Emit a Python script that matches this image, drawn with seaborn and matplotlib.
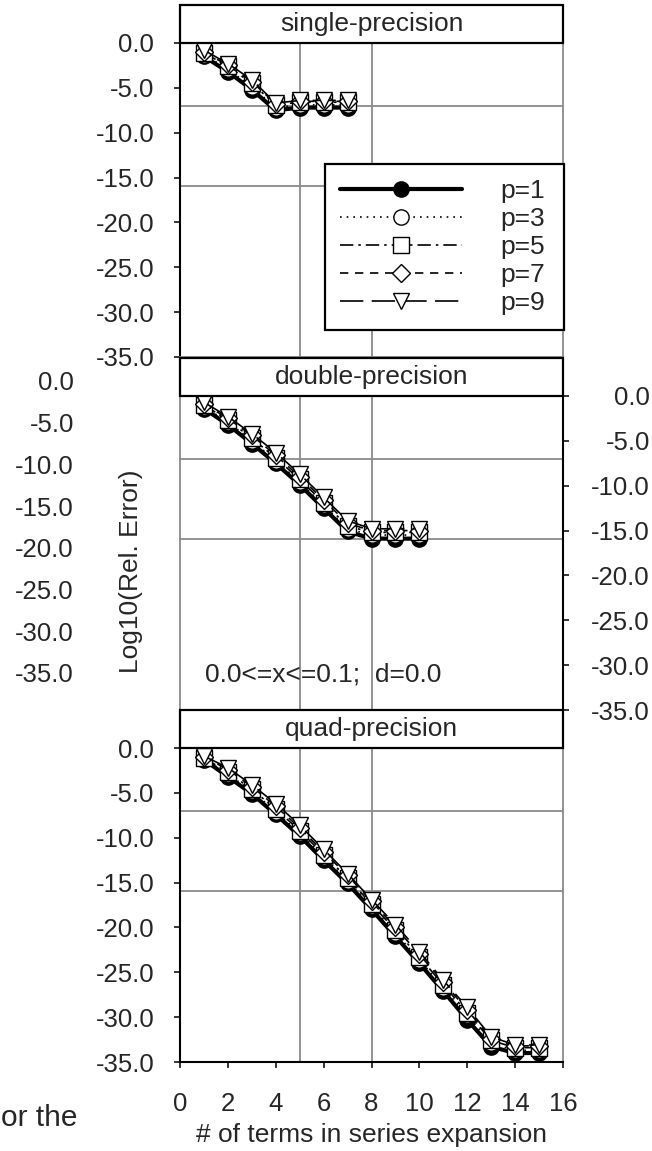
import numpy as np
import pandas as pd
import seaborn as sns
import matplotlib
matplotlib.use("Agg")
import matplotlib.pyplot as plt
from matplotlib.patches import Rectangle

# ---- data (log10 of relative error) ----
series_labels = ["p=1", "p=3", "p=5", "p=7", "p=9"]

single_terms = [1, 2, 3, 4, 5, 6, 7]
single_p1 = [-1.5, -3.2, -5.2, -7.5, -7.2, -7.2, -7.2]
single_p3 = [-1.3, -2.9, -4.9, -7.2, -6.9, -6.9, -6.9]
single_p5 = [-1.1, -2.6, -4.5, -6.9, -6.6, -6.6, -6.6]
single_p7 = [-1.0, -2.5, -4.3, -6.8, -6.5, -6.5, -6.5]
single_p9 = [-0.8, -2.3, -4.1, -6.7, -6.4, -6.4, -6.4]

double_terms = [1, 2, 3, 4, 5, 6, 7, 8, 9, 10]
double_p1 = [-1.4, -3.2, -5.3, -7.5, -9.9, -12.5, -15.1, -15.9, -15.9, -15.9]
double_p3 = [-1.2, -2.9, -5.0, -7.2, -9.6, -12.2, -14.8, -15.5, -15.5, -15.5]
double_p5 = [-1.0, -2.7, -4.7, -6.9, -9.3, -11.9, -14.5, -15.2, -15.2, -15.2]
double_p7 = [-0.9, -2.5, -4.4, -6.6, -9.0, -11.6, -14.2, -15.0, -15.0, -15.0]
double_p9 = [-0.7, -2.3, -4.2, -6.3, -8.7, -11.3, -13.9, -14.8, -14.8, -14.8]

quad_terms = list(range(1, 16))
quad_p1 = [-1.3, -3.2, -5.1, -7.4, -9.8, -12.5, -15.1, -18.0, -21.0, -24.0, -27.1, -30.3, -33.3, -34.0, -34.0]
quad_p3 = [-1.2, -2.9, -4.8, -7.1, -9.5, -12.1, -14.8, -17.6, -20.6, -23.6, -26.7, -29.8, -32.9, -33.7, -33.7]
quad_p5 = [-1.1, -2.7, -4.6, -6.8, -9.2, -11.9, -14.5, -17.4, -20.3, -23.3, -26.4, -29.5, -32.6, -33.4, -33.4]
quad_p7 = [-1.0, -2.4, -4.3, -6.5, -8.9, -11.6, -14.2, -17.1, -20.0, -23.0, -26.1, -29.2, -32.4, -33.2, -33.2]
quad_p9 = [-0.9, -2.2, -4.1, -6.2, -8.6, -11.3, -14.0, -16.9, -19.7, -22.7, -25.9, -28.9, -32.2, -33.1, -33.1]

panel_titles = ["single-precision", "double-precision", "quad-precision"]
eps_levels = [-7.0, -15.95]     # horizontal reference lines
term_marks = [5, 8]             # vertical reference lines
y_ticks = [0, -5, -10, -15, -20, -25, -30, -35]
x_ticks = [0, 2, 4, 6, 8, 10, 12, 14, 16]

panels = [
    (single_terms, [single_p1, single_p3, single_p5, single_p7, single_p9]),
    (double_terms, [double_p1, double_p3, double_p5, double_p7, double_p9]),
    (quad_terms, [quad_p1, quad_p3, quad_p5, quad_p7, quad_p9]),
]

# ---- styling ----
sns.set_style("white")
plt.rcParams["font.family"] = ["Liberation Sans", "DejaVu Sans"]
plt.rcParams["axes.unicode_minus"] = False

W, H = 652, 1151
GRAY = "#8a8a8a"
TICK_FS = 18.5
TXT_FS = 19

styles = [
    dict(linestyle="-", linewidth=3.0, marker="o", markersize=11, markerfacecolor="black"),
    dict(linestyle=(0, (1, 3)), linewidth=1.2, marker="o", markersize=11, markerfacecolor="white"),
    dict(linestyle=(0, (8, 3, 1.5, 3)), linewidth=1.2, marker="s", markersize=11, markerfacecolor="white"),
    dict(linestyle=(0, (5, 4)), linewidth=1.2, marker="D", markersize=9, markerfacecolor="white"),
    dict(linestyle=(0, (14, 5)), linewidth=1.2, marker="v", markersize=12, markerfacecolor="white"),
]


def fig_rect(x0, y0, x1, y1):
    return [x0 / W, 1 - y1 / H, (x1 - x0) / W, (y1 - y0) / H]


fig = plt.figure(figsize=(W / 100, H / 100), dpi=100)

panel_y = [(43, 357), (396, 710), (748, 1062)]
axes = []
for i, ((terms, vals), (y0, y1)) in enumerate(zip(panels, panel_y)):
    ax = fig.add_axes(fig_rect(180, y0, 563, y1))
    ax.set_facecolor("none")
    for v in eps_levels:
        ax.axhline(v, color=GRAY, lw=1.3, zorder=1)
    for v in term_marks:
        ax.axvline(v, color=GRAY, lw=1.3, zorder=1)
    for k, (lab, ys) in enumerate(zip(series_labels, vals)):
        df = pd.DataFrame({"terms": terms, "err": ys})
        sns.lineplot(data=df, x="terms", y="err", ax=ax, color="black",
                     markeredgecolor="black", markeredgewidth=1.0,
                     label=lab, legend=False, zorder=3 + k, clip_on=False,
                     **styles[k])
    ax.set_xlim(0, 16)
    ax.set_ylim(-35, 0)
    ax.set_xticks(x_ticks)
    ax.set_yticks(y_ticks)
    ax.set_yticklabels([f"{t:.1f}" for t in y_ticks])
    ax.set_xlabel("")
    ax.set_ylabel("")
    for s in ax.spines.values():
        s.set_color(GRAY)
        s.set_linewidth(1.3)
    ax.tick_params(axis="both", direction="out", length=4.5, width=1.1,
                   color="black", labelsize=TICK_FS)
    ax.tick_params(axis="x", bottom=False, labelbottom=False)
    ax.tick_params(axis="y", left=True, pad=14)
    ax.spines["left"].set_color("black")
    ax.spines["left"].set_linewidth(1.5)

    # title box above the panel
    hb = 38 / 314
    ax.add_patch(Rectangle((0, 1), 1, hb, transform=ax.transAxes, facecolor="white",
                           edgecolor="black", lw=1.6, clip_on=False, zorder=10))
    ax.text(0.5, 1 + hb / 2, panel_titles[i], transform=ax.transAxes, ha="center",
            va="center", fontsize=TXT_FS, zorder=11)
    axes.append(ax)

ax_s, ax_d, ax_q = axes

# middle panel: y axis on the right, gray left spine
ax_d.spines["left"].set_color(GRAY)
ax_d.spines["left"].set_linewidth(1.3)
ax_d.spines["right"].set_color("black")
ax_d.spines["right"].set_linewidth(1.5)
ax_d.tick_params(axis="y", left=False, labelleft=False, right=True, labelright=True, pad=58)
for lbl in ax_d.get_yticklabels(which="major"):
    lbl.set_horizontalalignment("right")
ax_d.text(1.05, -31.0, "0.0<=x<=0.1;  d=0.0", fontsize=TXT_FS, va="center", ha="left", zorder=12)
ax_d.text(-0.128, 0.443, "Log10(Rel. Error)", transform=ax_d.transAxes, rotation=90,
          fontsize=TXT_FS, ha="center", va="center")

# quad panel: black bottom axis with labels
ax_q.spines["bottom"].set_color("black")
ax_q.spines["bottom"].set_linewidth(1.5)
ax_q.tick_params(axis="x", bottom=True, labelbottom=True, pad=17)
ax_q.set_xticklabels([str(t) for t in x_ticks])
ax_q.set_xlabel("# of terms in series expansion", fontsize=TXT_FS, labelpad=5)

# stray y labels at the far left beside the middle panel
ax_g = fig.add_axes(fig_rect(74, 381, 75, 673))
ax_g.set_ylim(-35, 0)
ax_g.set_yticks(y_ticks)
ax_g.set_yticklabels([f"{t:.1f}" for t in y_ticks])
ax_g.set_xticks([])
ax_g.tick_params(axis="y", length=0, pad=0, labelsize=TICK_FS)
for s in ax_g.spines.values():
    s.set_visible(False)
ax_g.patch.set_visible(False)

# legend in the single-precision panel
handles, labels = ax_s.get_legend_handles_labels()
leg = ax_s.legend(handles, labels, loc="upper left",
                  bbox_to_anchor=(0.379, 0.016, 0.624, 0.599), mode="expand",
                  fontsize=TXT_FS, frameon=True, fancybox=False, framealpha=1,
                  edgecolor="black", handlelength=4.6, handletextpad=1.45,
                  labelspacing=0.15, borderpad=0.57, borderaxespad=0)
leg.get_frame().set_linewidth(1.6)
leg.set_zorder(20)

# fragment of the surrounding page text
fig.text(1 / W, 1 - 1118 / H, "or the", fontsize=21.5, ha="left", va="center")

fig.savefig("out.png", dpi=100)
